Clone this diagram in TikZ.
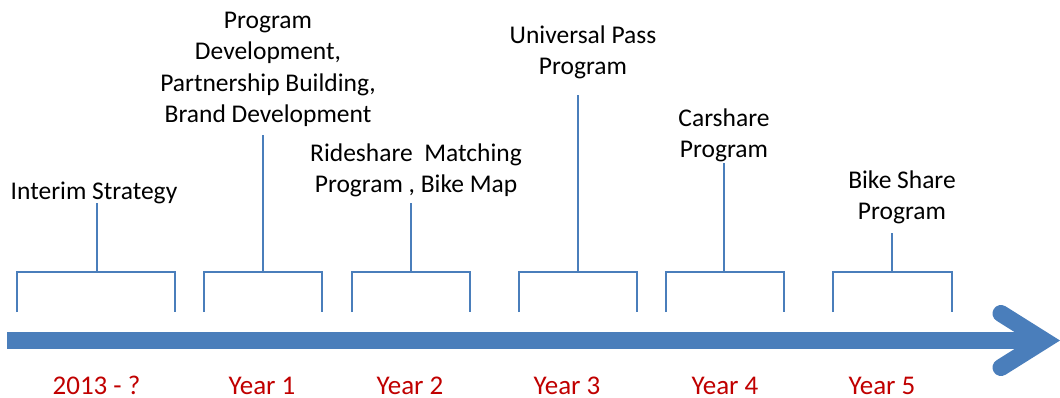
\documentclass[tikz,border=0pt]{standalone}
\usepackage{fontspec}
\setmainfont{Carlito}
\definecolor{lineblue}{RGB}{74,126,187}
\definecolor{yearred}{RGB}{192,0,0}
\tikzset{
	phase/.style={font=\fontsize{25.5}{31.5}\selectfont, align=center, inner sep=0pt, anchor=base},
	year/.style={font=\fontsize{27}{32}\selectfont, text=yearred, inner sep=0pt, anchor=base},
	bracket/.style={draw=lineblue, line width=1.3pt},
	timeline/.style={draw=lineblue, line width=17pt},
}
\begin{document}
\begin{tikzpicture}[x=1pt,y=-1pt]
		\useasboundingbox (0,0) rectangle (1060,398);
		% time arrow
		\coordinate (start) at (7,340.5);
		\coordinate (tip) at (1044,340.5);
		\coordinate (up) at (1001,313.5);
		\coordinate (down) at (1001,367.5);
		\draw[timeline] (start) -- (tip);
		\draw[timeline,line cap=round] (up) -- (tip) -- (down);
		% phases (base = last line)
		\node[phase] (0) at (94,200) {Interim Strategy};
		\node[phase] (1) at (268,123) {Program\\Development,\\Partnership Building,\\Brand Development};
		\node[phase] (2) at (416,193) {Rideshare\ \ Matching\\Program , Bike Map};
		\node[phase] (3) at (583,75) {Universal Pass\\Program};
		\node[phase] (4) at (724,158) {Carshare\\Program};
		\node[phase] (5) at (902,220) {Bike Share\\Program};
		% years
		\node[year] (y0) at (96.5,394) {2013 - ?};
		\node[year] (y1) at (262,394) {Year 1};
		\node[year] (y2) at (410,394) {Year 2};
		\node[year] (y3) at (567,394) {Year 3};
		\node[year] (y4) at (725,394) {Year 4};
		\node[year] (y5) at (882,394) {Year 5};
		% brackets with their stems
		\foreach \n/\l/\r/\s/\t in {0/17/175/97/203, 1/204/322/263/135, 2/352/470/411/203,
				3/519/637/578/95, 4/666/784/724/163, 5/833/952/892/233} {
			\coordinate (b\n) at (\s,272);
			\coordinate (t\n) at (\s,\t);
			\draw[bracket] (\l,312) |- (\r,272) -- (\r,312);
			\draw[bracket] (b\n) -- (t\n);
		}
	\end{tikzpicture}
\end{document}
